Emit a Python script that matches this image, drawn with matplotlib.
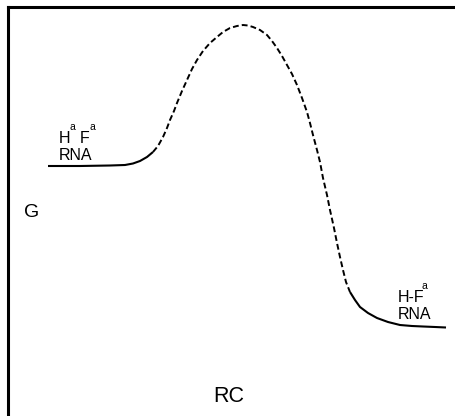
import matplotlib
matplotlib.use("Agg")
import matplotlib.pyplot as plt

plt.rcParams['font.family'] = ['Liberation Sans', 'DejaVu Sans']

# Free-energy profile along the reaction coordinate (arbitrary units)
# reactant plateau (solid)
rc_reactant = [40, 72, 102, 117, 125, 132, 139, 145]
g_reactant = [250, 250, 250.5, 251, 252.5, 255, 259, 264]

# barrier region (dashed)
rc_barrier = [145, 150, 155, 159, 162, 166, 169, 174, 179, 184, 189, 195, 202, 209,
              215, 222, 229, 235, 240, 245, 252, 259, 264, 269, 274, 279, 284, 289,
              294, 299, 302, 305, 309, 312, 315, 319, 322, 326, 329, 332, 335, 338, 342]
g_barrier = [264, 270, 279, 288, 296, 305, 313, 325, 336, 347, 356, 365, 373, 379,
             384, 388, 390, 391, 390.5, 389, 386, 381, 375, 368, 360, 351, 342, 331,
             318, 304, 293, 281, 266, 254, 238, 221, 206, 188, 173, 159, 146, 134, 124]

# product plateau (solid)
rc_product = [342, 347, 352, 360, 369, 380, 392, 404, 415, 427, 438]
g_product = [124, 116, 109, 103, 98, 94, 91, 90, 89.5, 89, 88.5]

fig = plt.figure(figsize=(4.56, 4.16), dpi=100)
ax = fig.add_axes([8 / 456, 0, 1 - 8 / 456, 1 - 7 / 416])
ax.set_xlim(0, 448)
ax.set_ylim(0, 409)

ax.plot(rc_reactant, g_reactant, color='black', lw=1.5, solid_capstyle='butt')
ax.plot(rc_barrier, g_barrier, color='black', lw=1.4, dashes=(3, 1.6))
ax.plot(rc_product, g_product, color='black', lw=1.5, solid_capstyle='butt')

for side in ('right', 'bottom'):
    ax.spines[side].set_visible(False)
for side in ('left', 'top'):
    ax.spines[side].set_linewidth(2.2)
ax.set_xticks([])
ax.set_yticks([])

# state labels
lab = 11.5
sup = 7.5
ax.text(51, 273, 'H', fontsize=lab, ha='left', va='baseline')
ax.text(62, 286, 'a', fontsize=sup, ha='left', va='baseline')
ax.text(72, 273, 'F', fontsize=lab, ha='left', va='baseline')
ax.text(82, 286, 'a', fontsize=sup, ha='left', va='baseline')
ax.text(51, 256, 'RNA', fontsize=lab, ha='left', va='baseline')

ax.text(390, 114, 'H-F', fontsize=lab, ha='left', va='baseline')
ax.text(414, 127, 'a', fontsize=sup, ha='left', va='baseline')
ax.text(390, 97, 'RNA', fontsize=lab, ha='left', va='baseline')

# axis names
ax.text(16, 199, 'G', fontsize=14, ha='left', va='baseline')
ax.text(205, 14, 'RC', fontsize=15.5, ha='left', va='baseline')

fig.savefig('out.png', dpi=100)
